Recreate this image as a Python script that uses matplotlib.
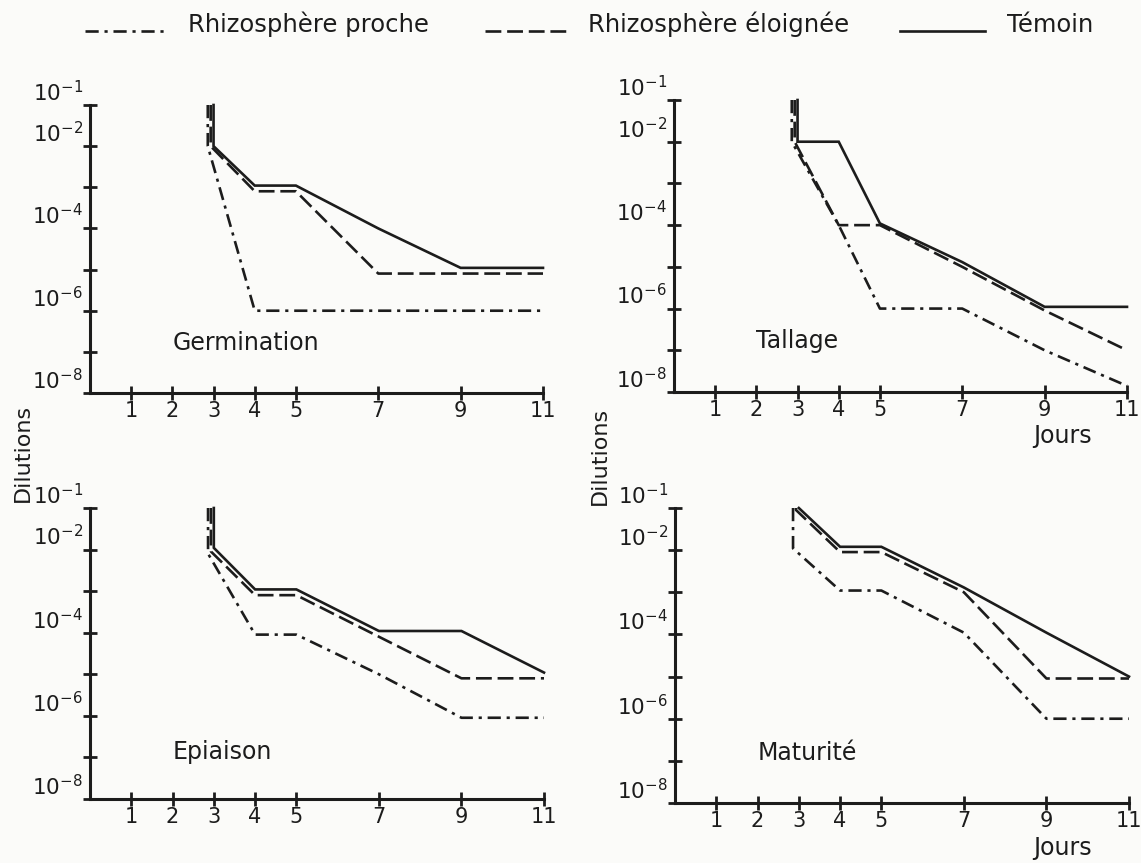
import matplotlib
matplotlib.use("Agg")
import matplotlib.pyplot as plt
from matplotlib.lines import Line2D
from matplotlib.ticker import NullLocator

# ---------------- data ----------------
days = [3, 4, 5, 7, 9, 11]
x_ticks = [1, 2, 3, 4, 5, 7, 9, 11]
y_decades = [-8, -7, -6, -5, -4, -3, -2, -1]
y_labelled = [-8, -6, -4, -2, -1]
stages = ["Germination", "Tallage", "Epiaison", "Maturité"]
series_names = ["Rhizosphère proche", "Rhizosphère éloignée", "Témoin"]
start_top = 1e-1

germination_proche = [1e-2, 1e-6, 1e-6, 1e-6, 1e-6, 1e-6]
germination_eloignee = [1e-2, 8e-4, 8e-4, 8e-6, 8e-6, 8e-6]
germination_temoin = [1e-2, 1.1e-3, 1.1e-3, 1e-4, 1.1e-5, 1.1e-5]

tallage_proche = [1e-2, 1e-4, 1e-6, 1e-6, 1e-7, 1.4e-8]
tallage_eloignee = [1e-2, 1e-4, 1e-4, 1e-5, 9e-7, 1e-7]
tallage_temoin = [1e-2, 1e-2, 1.1e-4, 1.3e-5, 1.1e-6, 1.1e-6]

epiaison_proche = [8e-3, 9e-5, 9e-5, 1e-5, 9e-7, 9e-7]
epiaison_eloignee = [9e-3, 8e-4, 8e-4, 8e-5, 8e-6, 8e-6]
epiaison_temoin = [1.1e-2, 1.1e-3, 1.1e-3, 1.1e-4, 1.1e-4, 1.1e-5]

maturite_proche = [1.1e-2, 1.1e-3, 1.1e-3, 1.1e-4, 1e-6, 1e-6]
maturite_eloignee = [9e-2, 9e-3, 9e-3, 1e-3, 9e-6, 9e-6]
maturite_temoin = [1e-1, 1.2e-2, 1.2e-2, 1.3e-3, 1.1e-4, 1e-5]

panel_series = [
    [germination_proche, germination_eloignee, germination_temoin],
    [tallage_proche, tallage_eloignee, tallage_temoin],
    [epiaison_proche, epiaison_eloignee, epiaison_temoin],
    [maturite_proche, maturite_eloignee, maturite_temoin],
]

# ---------------- style ----------------
INK = "#1c1c1c"
BG = "#fbfbf9"
LW = 1.9
styles = [(0, (5, 2.2, 1.2, 2.2)), (0, (6, 2.2)), "-"]
x_shift = [-0.14, -0.07, 0.0]   # small horizontal offset of the initial vertical strokes
plt.rcParams["font.family"] = ["DejaVu Sans"]

W, H = 1141, 863
fig = plt.figure(figsize=(W / 100, H / 100), dpi=100, facecolor=BG)

# axes rectangles in pixels: (left, right, top, bottom)
rects_px = [(90, 543, 105, 393), (674, 1127, 100, 392),
            (90, 544, 508, 799), (675, 1129, 508, 803)]
label_y = [1.65e-7, 1.7e-7, 1.35e-7, 1.5e-7]

for i, (l, r, t, b) in enumerate(rects_px):
    ax = fig.add_axes([l / W, 1 - b / H, (r - l) / W, (b - t) / H])
    ax.set_facecolor("none")
    for k, vals in enumerate(panel_series[i]):
        xs = [days[0] + x_shift[k], days[0] + x_shift[k]] + days[1:]
        ys = [start_top] + vals
        ax.plot(xs, ys, color=INK, lw=LW, linestyle=styles[k], clip_on=False,
                solid_joinstyle="miter")
    ax.set_yscale("log")
    ax.set_ylim(1e-8, 1e-1)
    ax.set_xlim(0, 11)
    ax.yaxis.set_minor_locator(NullLocator())
    ax.set_yticks([10.0 ** d for d in y_decades])
    ax.set_yticklabels([f"$10^{{{d}}}$" if d in y_labelled else "" for d in y_decades])
    ax.set_xticks(x_ticks)
    ax.set_xticklabels([str(v) for v in x_ticks])
    for s in ("top", "right"):
        ax.spines[s].set_visible(False)
    for s in ("left", "bottom"):
        ax.spines[s].set_linewidth(2.2)
        ax.spines[s].set_color(INK)
    ax.tick_params(axis="both", direction="inout", length=10, width=2,
                   color=INK, labelcolor=INK)
    ax.tick_params(axis="y", labelsize=15.5, pad=0)
    ax.tick_params(axis="x", labelsize=15, pad=1)
    for tl in ax.get_yticklabels():
        tl.set_va("bottom")
    ax.text(2.0, label_y[i], stages[i], fontsize=17, color=INK,
            ha="left", va="center")

# axis titles
fig.text(23 / W, 1 - 453 / H, "Dilutions", rotation=90, fontsize=16,
         color=INK, ha="center", va="center")
fig.text(600 / W, 1 - 456 / H, "Dilutions", rotation=90, fontsize=16,
         color=INK, ha="center", va="center")
fig.text(1063 / W, 1 - 436 / H, "Jours", fontsize=17, color=INK,
         ha="center", va="center")
fig.text(1063 / W, 1 - 848 / H, "Jours", fontsize=17, color=INK,
         ha="center", va="center")

# legend along the top
key_px = [(85, 168, 188), (485, 567, 588), (900, 985, 1007)]
ly = 1 - 31 / H
for k, (x0, x1, tx) in enumerate(key_px):
    fig.add_artist(Line2D([x0 / W, x1 / W], [ly, ly], transform=fig.transFigure,
                          color=INK, lw=LW, linestyle=styles[k]))
    fig.text(tx / W, 1 - 32 / H, series_names[k], fontsize=17.5, color=INK,
             ha="left", va="baseline")

fig.savefig("out.png", dpi=100, facecolor=BG)
